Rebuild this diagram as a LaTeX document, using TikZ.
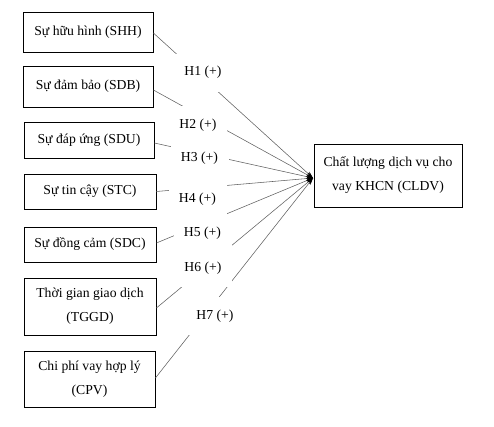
\documentclass[tikz,border=0pt]{standalone}
\usepackage{fontspec}
\setmainfont{Liberation Serif}
\usetikzlibrary{arrows.meta}
\begin{document}
\begin{tikzpicture}[x=1pt,y=-1pt,
  factor/.style={draw=black,line width=0.8pt,minimum width=131pt,align=center,inner sep=0pt,font=\fontsize{13.7}{24}\selectfont},
  hyp/.style={fill=white,minimum width=58pt,minimum height=38pt,inner sep=0pt,font=\fontsize{13.7}{15}\selectfont},
  link/.style={draw=gray!75!black,line width=0.55pt,-{Stealth[black,length=7pt,width=4.5pt]}}]
\useasboundingbox (0,0) rectangle (494,426);
\node[factor,minimum width=130pt,minimum height=40pt] (shh) at (88,32) {Sự hữu hình (SHH)};
\node[factor,minimum width=130pt,minimum height=41pt] (sdb) at (88,86.5) {Sự đảm bảo (SDB)};
\node[factor,minimum width=130pt,minimum height=36pt] (sdu) at (89,140) {Sự đáp ứng (SDU)};
\node[factor,minimum width=132pt,minimum height=35pt] (stc) at (90,191.5) {Sự tin cậy (STC)};
\node[factor,minimum width=132pt,minimum height=35pt] (sdc) at (90,244.5) {Sự đồng cảm (SDC)};
\node[factor,minimum width=132pt,minimum height=57pt] (tggd) at (90,306.5) {Thời gian giao dịch\\(TGGD)};
\node[factor,minimum height=56pt] (cpv) at (89.5,379) {Chi phí vay hợp lý\\(CPV)};
\node[factor,minimum width=148pt,minimum height=63pt] (cldv) at (388,175.5) {Chất lượng dịch vụ cho\\vay KHCN (CLDV)};
\coordinate (tip) at (313,178);
\draw[link] ([yshift=-1pt]shh.east) -- (tip);
\draw[link] ([yshift=-3.5pt]sdb.east) -- (tip);
\draw[link] ([yshift=-3pt]sdu.east) -- (tip);
\draw[link] (stc.east) -- (tip);
\draw[link] ([yshift=1.5pt]sdc.east) -- (tip);
\draw[link] ([yshift=-1.5pt]tggd.east) -- (tip);
\draw[link] ([yshift=1pt]cpv.east) -- (tip);
\node[hyp] (h1) at (203,72.5) {H1 (+)};
\node[hyp] (h2) at (198,125) {H2 (+)};
\node[hyp] (h3) at (199.5,158) {H3 (+)};
\node[hyp] (h4) at (197.5,199) {H4 (+)};
\node[hyp] (h5) at (202.5,233) {H5 (+)};
\node[hyp] (h6) at (203,268) {H6 (+)};
\node[hyp] (h7) at (215,316) {H7 (+)};
\end{tikzpicture}
\end{document}
